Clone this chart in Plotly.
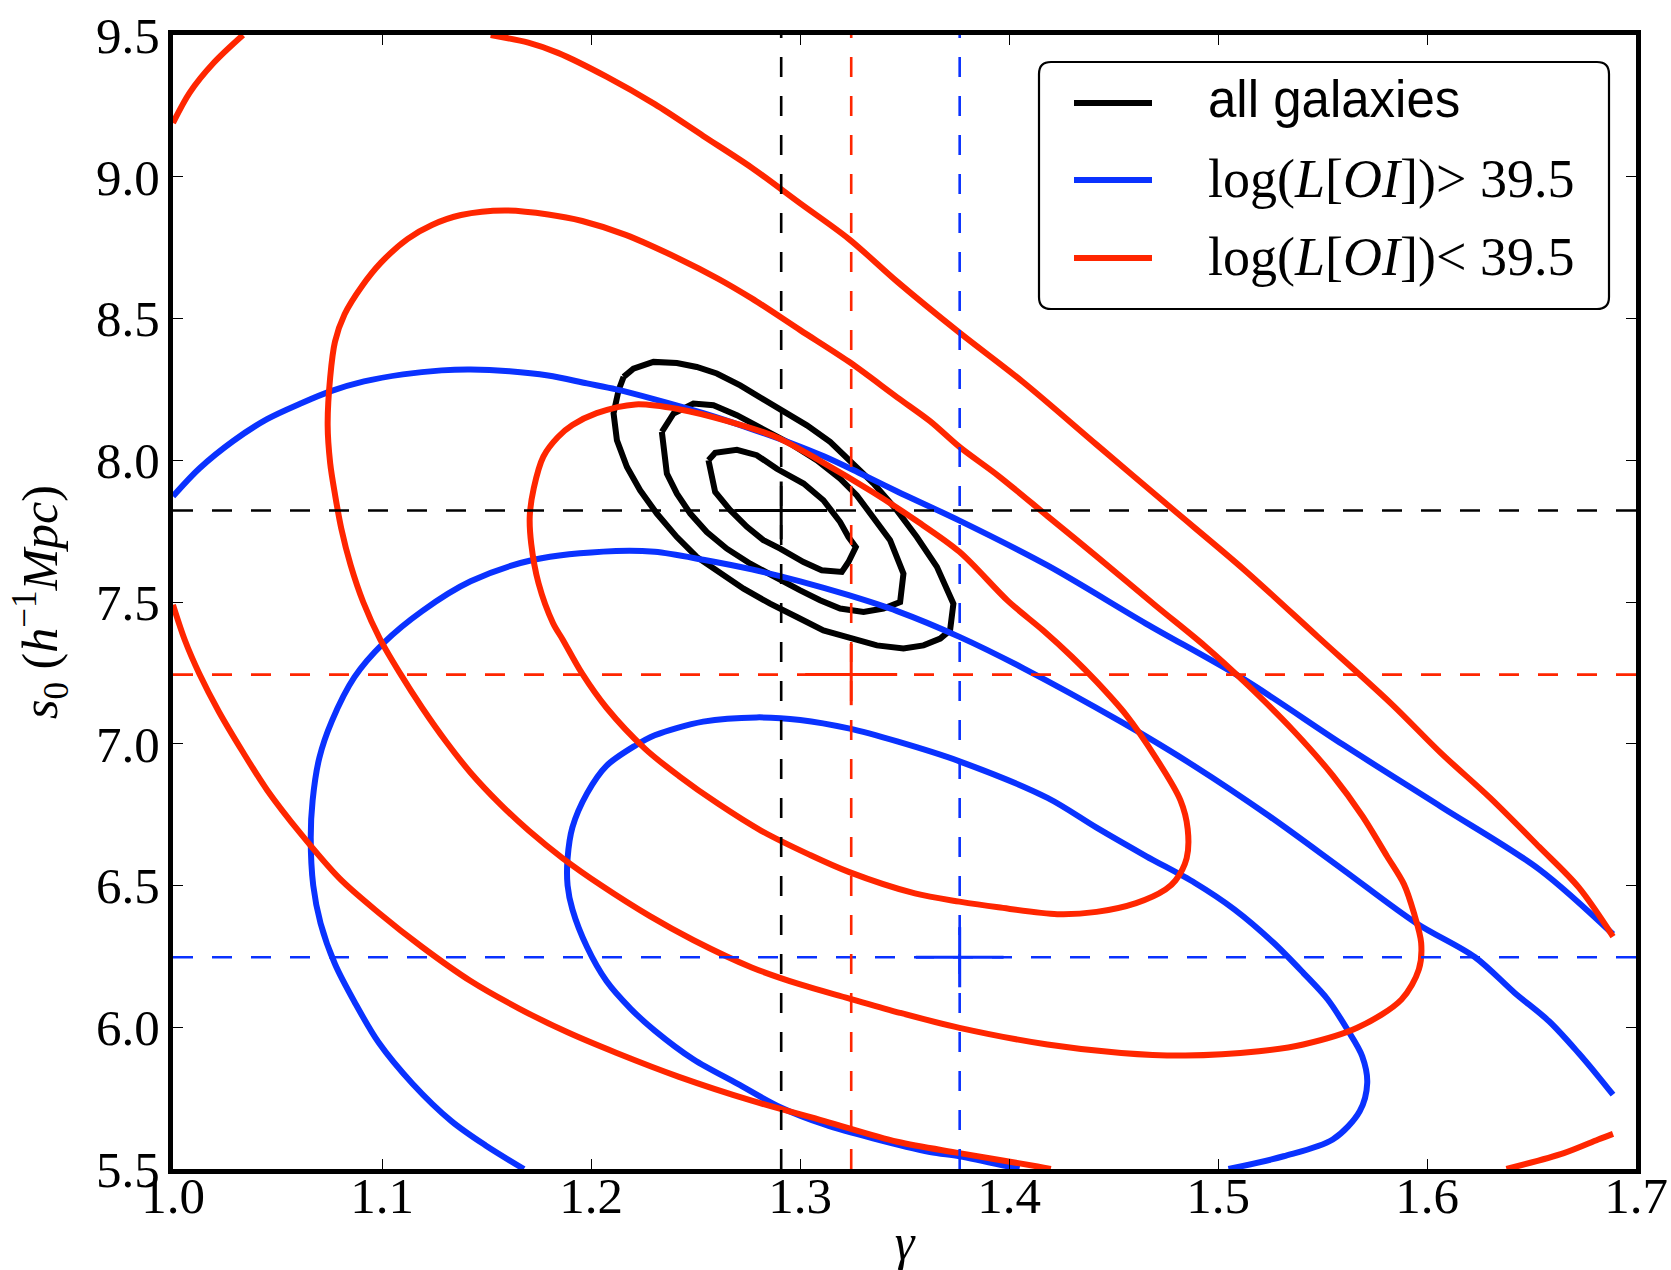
import plotly.graph_objects as go

# ---------------- data ----------------
gamma_range = [1.0, 1.7]
s0_range = [5.5, 9.5]
gamma_ticks = [1.0, 1.1, 1.2, 1.3, 1.4, 1.5, 1.6, 1.7]
s0_ticks = [5.5, 6.0, 6.5, 7.0, 7.5, 8.0, 8.5, 9.0, 9.5]

series_names = ["all galaxies",
                "log(<i>L</i>[<i>OI</i>])> 39.5",
                "log(<i>L</i>[<i>OI</i>])< 39.5"]
# best-fit values: all galaxies, high L[OI] (blue), low L[OI] (red)
best_gamma = [1.291, 1.3764, 1.3245]
best_s0 = [7.823, 6.247, 7.244]
err_gamma = [0.022, 0.021, 0.022]
err_s0 = [0.102, 0.106, 0.108]

# ---- all galaxies: confidence contours (gamma, s0) ----
all_c1 = [(1.2562, 8.000), (1.2594, 8.026), (1.2698, 8.037), (1.2793, 8.018), (1.2889, 7.970),
          (1.3017, 7.918), (1.3112, 7.859), (1.3192, 7.782), (1.3232, 7.729), (1.3267, 7.694),
          (1.3232, 7.641), (1.3200, 7.606), (1.3104, 7.612), (1.3017, 7.641), (1.2905, 7.688),
          (1.2825, 7.718), (1.2746, 7.765), (1.2666, 7.824), (1.2594, 7.888), (1.2573, 7.953),
          (1.2562, 8.000)]
all_c2 = [(1.2339, 8.100), (1.2395, 8.165), (1.2490, 8.200), (1.2586, 8.194), (1.2698, 8.159),
          (1.2825, 8.112), (1.2953, 8.059), (1.3080, 8.000), (1.3192, 7.935), (1.3272, 7.876),
          (1.3352, 7.800), (1.3431, 7.718), (1.3495, 7.600), (1.3479, 7.500), (1.3399, 7.477),
          (1.3304, 7.465), (1.3192, 7.477), (1.3096, 7.506), (1.3001, 7.541), (1.2889, 7.583),
          (1.2762, 7.635), (1.2650, 7.688), (1.2554, 7.747), (1.2475, 7.812), (1.2411, 7.882),
          (1.2363, 7.953), (1.2347, 8.035), (1.2339, 8.100)]
all_c3 = [(1.2156, 8.294), (1.2203, 8.323), (1.2299, 8.347), (1.2411, 8.343), (1.2506, 8.329),
          (1.2602, 8.306), (1.2714, 8.264), (1.2825, 8.217), (1.2921, 8.176), (1.3033, 8.123),
          (1.3144, 8.065), (1.3240, 8.000), (1.3352, 7.918), (1.3463, 7.824), (1.3559, 7.729),
          (1.3655, 7.624), (1.3734, 7.494), (1.3718, 7.400), (1.3671, 7.371), (1.3591, 7.347),
          (1.3495, 7.336), (1.3368, 7.347), (1.3240, 7.371), (1.3112, 7.400), (1.2985, 7.447),
          (1.2857, 7.494), (1.2730, 7.547), (1.2618, 7.600), (1.2506, 7.659), (1.2411, 7.729),
          (1.2315, 7.812), (1.2235, 7.894), (1.2172, 7.976), (1.2124, 8.070), (1.2108, 8.165),
          (1.2132, 8.247), (1.2156, 8.294)]

# ---- log(L[OI]) > 39.5 (blue) ----
high_c1 = [(1.505, 5.500), (1.5314, 5.545), (1.5549, 5.604), (1.5678, 5.704), (1.5714, 5.804),
           (1.5690, 5.898), (1.5619, 5.992), (1.5525, 6.098), (1.5408, 6.192), (1.5266, 6.298),
           (1.5078, 6.416), (1.4890, 6.509), (1.4655, 6.604), (1.4419, 6.704), (1.4184, 6.809),
           (1.3763, 6.938), (1.3465, 7.008), (1.3233, 7.054), (1.3001, 7.084), (1.2792, 7.093),
           (1.2537, 7.078), (1.2305, 7.030), (1.2213, 6.994), (1.2074, 6.922), (1.1981, 6.825),
           (1.1911, 6.705), (1.1888, 6.596), (1.1888, 6.500), (1.1911, 6.416), (1.1981, 6.283),
           (1.2074, 6.163), (1.2189, 6.066), (1.2305, 5.988), (1.2491, 5.886), (1.2700, 5.801),
           (1.2908, 5.717), (1.3117, 5.657), (1.3349, 5.608), (1.3622, 5.560), (1.3763, 5.545),
           (1.3996, 5.509), (1.405, 5.500)]
high_c2 = [(1.1679, 5.500), (1.1494, 5.584), (1.1332, 5.669), (1.1146, 5.801), (1.0984, 5.946),
           (1.0868, 6.090), (1.0775, 6.223), (1.0706, 6.367), (1.0671, 6.500), (1.0659, 6.669),
           (1.0668, 6.800), (1.0700, 6.950), (1.0760, 7.080), (1.0868, 7.235), (1.1007, 7.355),
           (1.1192, 7.468), (1.1424, 7.573), (1.1726, 7.649), (1.2120, 7.680), (1.2305, 7.677),
           (1.2537, 7.649), (1.2769, 7.615), (1.3001, 7.573), (1.3233, 7.524), (1.3465, 7.468),
           (1.3763, 7.377), (1.4067, 7.267), (1.4537, 7.077), (1.4890, 6.920), (1.5243, 6.746),
           (1.5596, 6.557), (1.5949, 6.367), (1.6230, 6.247), (1.6420, 6.121), (1.6584, 6.021),
           (1.6725, 5.909), (1.6819, 5.827), (1.6890, 5.762)]
high_c3 = [(1.0000, 7.873), (1.0126, 7.971), (1.0288, 8.068), (1.0450, 8.145), (1.0613, 8.201),
           (1.0752, 8.243), (1.0914, 8.278), (1.1100, 8.303), (1.1285, 8.317), (1.1424, 8.320),
           (1.1610, 8.314), (1.1795, 8.299), (1.1981, 8.271), (1.2120, 8.250), (1.2305, 8.215),
           (1.2537, 8.166), (1.2769, 8.110), (1.2955, 8.061), (1.3117, 8.013), (1.3279, 7.957),
           (1.3465, 7.890), (1.3763, 7.787), (1.4184, 7.629), (1.4655, 7.424), (1.5125, 7.227),
           (1.5596, 6.998), (1.6067, 6.778), (1.6537, 6.557), (1.6890, 6.328)]

# ---- log(L[OI]) < 39.5 (red) ----
low_c1 = [(1.1707, 7.803), (1.1726, 7.901), (1.1772, 8.013), (1.1842, 8.082), (1.1911, 8.124),
          (1.2027, 8.166), (1.2213, 8.197), (1.2421, 8.180), (1.2653, 8.138), (1.2885, 8.082),
          (1.3094, 7.999), (1.3349, 7.887), (1.3550, 7.790), (1.3763, 7.677), (1.3996, 7.503),
          (1.4161, 7.401), (1.4302, 7.306), (1.4419, 7.219), (1.4561, 7.101), (1.4702, 6.951),
          (1.4820, 6.801), (1.4855, 6.699), (1.4850, 6.596), (1.4796, 6.517), (1.4749, 6.486),
          (1.4608, 6.438), (1.4419, 6.407), (1.4231, 6.399), (1.3949, 6.423), (1.3763, 6.443),
          (1.3550, 6.472), (1.3233, 6.548), (1.3047, 6.608), (1.2815, 6.693), (1.2607, 6.789),
          (1.2421, 6.886), (1.2259, 6.982), (1.2074, 7.127), (1.1958, 7.247), (1.1865, 7.367),
          (1.1818, 7.426), (1.1749, 7.566), (1.1714, 7.705), (1.1707, 7.803)]
low_c2 = [(1.0740, 8.124), (1.0752, 8.292), (1.0775, 8.418), (1.0821, 8.515), (1.0903, 8.613),
          (1.0995, 8.697), (1.1123, 8.781), (1.1239, 8.830), (1.1378, 8.865), (1.1587, 8.881),
          (1.1795, 8.867), (1.1958, 8.844), (1.2166, 8.795), (1.2421, 8.711), (1.2607, 8.641),
          (1.2769, 8.571), (1.3001, 8.459), (1.3233, 8.348), (1.3465, 8.222), (1.3622, 8.138),
          (1.3763, 8.047), (1.3949, 7.945), (1.4184, 7.803), (1.4419, 7.661), (1.4702, 7.487),
          (1.4937, 7.345), (1.5125, 7.219), (1.5361, 7.046), (1.5549, 6.888), (1.5690, 6.746),
          (1.5808, 6.604), (1.5890, 6.504), (1.5937, 6.404), (1.5972, 6.298), (1.5961, 6.204),
          (1.5878, 6.098), (1.5666, 5.998), (1.5408, 5.939), (1.5196, 5.915), (1.4843, 5.900),
          (1.4537, 5.909), (1.4184, 5.939), (1.3763, 5.998), (1.3478, 6.051), (1.3233, 6.102),
          (1.3001, 6.151), (1.2769, 6.211), (1.2491, 6.307), (1.2282, 6.392), (1.2050, 6.500),
          (1.1865, 6.596), (1.1703, 6.693), (1.1563, 6.789), (1.1424, 6.898), (1.1308, 7.006),
          (1.1192, 7.127), (1.1085, 7.250), (1.0990, 7.370), (1.0910, 7.500), (1.0850, 7.630),
          (1.0805, 7.760), (1.0775, 7.880), (1.0752, 7.990), (1.0740, 8.124)]
low_c3_a = [(1.0000, 9.190), (1.0080, 9.297), (1.0195, 9.402), (1.0335, 9.500)]
low_c3_b = [(1.1520, 9.500), (1.1700, 9.473), (1.1842, 9.437), (1.2074, 9.353), (1.2305, 9.256),
            (1.2537, 9.144), (1.2769, 9.032), (1.3001, 8.906), (1.3233, 8.781), (1.3465, 8.630),
            (1.3763, 8.450), (1.4067, 8.276), (1.4419, 8.055), (1.4772, 7.834), (1.5125, 7.614),
            (1.5478, 7.377), (1.5831, 7.140), (1.6067, 6.967), (1.6302, 6.809), (1.6537, 6.636),
            (1.6725, 6.494), (1.6890, 6.320)]
low_c3_c = [(1.0000, 7.490), (1.0056, 7.367), (1.0126, 7.247), (1.0219, 7.114), (1.0335, 6.970),
            (1.0450, 6.837), (1.0613, 6.681), (1.0798, 6.524), (1.0984, 6.404), (1.1192, 6.283),
            (1.1424, 6.163), (1.1656, 6.066), (1.1888, 5.982), (1.2120, 5.910), (1.2421, 5.825),
            (1.2769, 5.741), (1.3117, 5.669), (1.3465, 5.596), (1.3763, 5.556), (1.4137, 5.509),
            (1.4200, 5.500)]
low_c3_d = [(1.6380, 5.500), (1.6655, 5.556), (1.6819, 5.604), (1.6890, 5.624)]

# ---------------- styling ----------------
BLACK = "#000000"
BLUE = "#0a32ff"
RED = "#ff2600"
colors = [BLACK, BLUE, RED]
SERIF = "Liberation Serif"
SANS = "Liberation Sans"
W, H = 1671, 1270
PL, PR, PT, PB = 173, 1636, 35, 1169   # plot area in pixels
LW = 6


def unzip(*pieces):
    xs, ys = [], []
    for k, piece in enumerate(pieces):
        if k:
            xs.append(None)
            ys.append(None)
        xs += [p[0] for p in piece]
        ys += [p[1] for p in piece]
    return xs, ys


fig = go.Figure()

contour_sets = [
    (0, [[all_c1], [all_c2], [all_c3]]),
    (1, [[high_c1], [high_c2], [high_c3]]),
    (2, [[low_c1], [low_c2], [low_c3_a], [low_c3_b], [low_c3_c], [low_c3_d]]),
]
for idx, groups in contour_sets:
    for pieces in groups:
        xs, ys = unzip(*pieces)
        line = dict(color=colors[idx], width=LW)
        if idx > 0:
            line.update(shape="spline", smoothing=0.9)
        fig.add_trace(go.Scatter(x=xs, y=ys, mode="lines", showlegend=False,
                                 line=line, hoverinfo="skip"))

# dashed best-fit lines
for i in range(3):
    fig.add_trace(go.Scatter(x=[best_gamma[i], best_gamma[i]], y=[s0_range[0], s0_range[1]],
                             mode="lines", showlegend=False, hoverinfo="skip",
                             line=dict(color=colors[i], width=2.6, dash="20px,19px")))
    fig.add_trace(go.Scatter(x=[gamma_range[0], gamma_range[1]], y=[best_s0[i], best_s0[i]],
                             mode="lines", showlegend=False, hoverinfo="skip",
                             line=dict(color=colors[i], width=2.6, dash="20px,19px")))

# error crosses
for i in range(3):
    fig.add_trace(go.Scatter(
        x=[best_gamma[i]], y=[best_s0[i]], mode="markers", name=series_names[i],
        showlegend=False, marker=dict(size=1, color=colors[i]),
        error_x=dict(type="data", array=[err_gamma[i]], color=colors[i], thickness=3, width=0),
        error_y=dict(type="data", array=[err_s0[i]], color=colors[i], thickness=3, width=0)))


# ---------------- manual legend (matplotlib style) ----------------
def px(x):
    return (x - PL) / (PR - PL)


def py(y):
    return (PB - y) / (PB - PT)


bx0, bx1, by0, by1, rad = 1039, 1609, 62, 309, 12
rx, ry = rad / (PR - PL), rad / (PB - PT)
X0, X1, Y0, Y1 = px(bx0), px(bx1), py(by1), py(by0)
path = (f"M{X0 + rx},{Y1} L{X1 - rx},{Y1} Q{X1},{Y1} {X1},{Y1 - ry} "
        f"L{X1},{Y0 + ry} Q{X1},{Y0} {X1 - rx},{Y0} L{X0 + rx},{Y0} "
        f"Q{X0},{Y0} {X0},{Y0 + ry} L{X0},{Y1 - ry} Q{X0},{Y1} {X0 + rx},{Y1} Z")
shapes = [dict(type="path", path=path, xref="paper", yref="paper",
               line=dict(color="black", width=2.2), fillcolor="white", layer="above")]
annotations = []
rows = [103, 180, 258]
for i, ry_ in enumerate(rows):
    shapes.append(dict(type="line", xref="paper", yref="paper",
                       x0=px(1074), x1=px(1152), y0=py(ry_), y1=py(ry_),
                       line=dict(color=colors[i], width=LW), layer="above"))
    annotations.append(dict(
        x=px(1206), y=py(ry_ - (3 if i == 0 else 1)), xref="paper", yref="paper",
        xanchor="left", yanchor="middle", showarrow=False, text=series_names[i],
        font=dict(family=SANS if i == 0 else SERIF, size=51 if i == 0 else 54, color="black")))

tick_font = dict(family=SERIF, size=51, color="black")
axis_common = dict(showline=True, linewidth=5, linecolor="black", mirror="ticks",
                   ticks="inside", ticklen=10, tickwidth=1.3, tickcolor="black",
                   showgrid=False, zeroline=False, tickfont=tick_font, automargin=False)

fig.update_xaxes(range=gamma_range, tickvals=gamma_ticks,
                 ticktext=[f"{v:.1f}" for v in gamma_ticks], ticklabelstandoff=-22,
                 title=dict(text="<i>γ</i>", font=dict(family=SERIF, size=50, color="black"),
                            standoff=44),
                 **axis_common)
fig.update_yaxes(range=s0_range, tickvals=s0_ticks,
                 ticktext=[f"{v:.1f}" for v in s0_ticks], ticklabelstandoff=-2,
                 title=dict(text="<i>s</i><sub>0</sub> (<i>h</i><sup>−1</sup><i>Mpc</i>)",
                            font=dict(family=SERIF, size=50, color="black"), standoff=24),
                 **axis_common)

fig.update_layout(width=W, height=H,
                  margin=dict(l=PL, r=W - PR, t=PT, b=H - PB, pad=0, autoexpand=False),
                  paper_bgcolor="white", plot_bgcolor="white",
                  shapes=shapes, annotations=annotations, showlegend=False)

fig.write_html("out.html")
